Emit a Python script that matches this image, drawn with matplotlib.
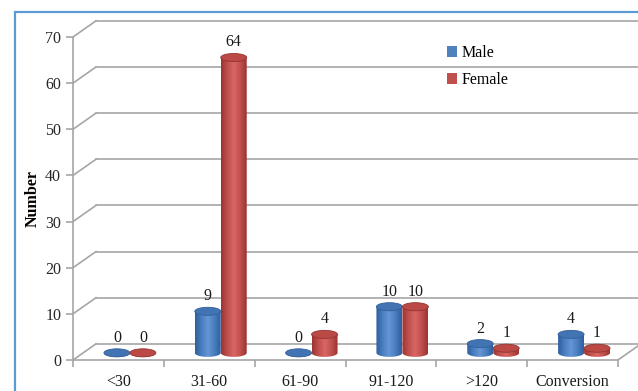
import numpy as np
import matplotlib.pyplot as plt
from matplotlib.colors import LinearSegmentedColormap
from matplotlib.patches import Ellipse, Rectangle, Patch
from matplotlib.path import Path

categories = ['<30', '31-60', '61-90', '91-120', '>120', 'Conversion']
male = [0, 9, 0, 10, 2, 4]
female = [0, 64, 4, 10, 1, 1]
yticks = [0, 10, 20, 30, 40, 50, 60, 70]

plt.rcParams['font.family'] = ['Liberation Serif', 'DejaVu Serif']

# depth of the 3d box in data units (x in categories, y in values)
DX, DY = 0.253, 3.5
BASE = 1.55          # floor level of the cylinders (middle of the depth)
CW = 0.286           # cylinder diameter
EH = 1.75            # height of the end ellipses in value units
GRID = '#a6a6a6'
FS = 11.5

fig = plt.figure(figsize=(6.38, 3.91), dpi=100)
ax = fig.add_axes([73 / 638, 31 / 391, 545 / 638, 323 / 391])
n = len(categories)
x0, x1 = -0.5, n - 0.5

# back wall grid + left side wall
for v in yticks:
    ax.plot([x0 + DX, x1 + DX], [v + DY, v + DY], color=GRID, lw=1.2,
            clip_on=False, zorder=1)
    ax.plot([x0, x0 + DX], [v, v + DY], color=GRID, lw=1.2, clip_on=False, zorder=1)
# floor right edge
ax.plot([x1, x1 + DX], [0, DY], color=GRID, lw=1.2, clip_on=False, zorder=1)

for s in ['top', 'right']:
    ax.spines[s].set_visible(False)
for s in ['left', 'bottom']:
    ax.spines[s].set_color(GRID)
    ax.spines[s].set_linewidth(1.2)

ax.set_xlim(x0, x1)
ax.set_ylim(0, 70)
ax.set_yticks(yticks)
ax.set_xticks(range(n))
ax.set_xticklabels(categories)
ax.set_xticks(np.arange(n + 1) - 0.5, minor=True)
ax.tick_params(axis='x', which='major', length=0, pad=10, labelsize=FS,
               labelcolor='#1a1a1a')
ax.tick_params(axis='x', which='minor', length=5, color=GRID, width=1.2)
ax.tick_params(axis='y', length=5, color=GRID, width=1.2, labelsize=FS,
               labelcolor='#262626')
ax.set_ylabel('Number', fontweight='bold', fontsize=FS, labelpad=3)
ax.patch.set_visible(False)


def cylinder(xc, val, dark, mid, light, top, edge):
    cmap = LinearSegmentedColormap.from_list(
        'cyl', [dark, mid, light, mid, dark], N=256)
    left, right = xc - CW / 2, xc + CW / 2
    ytop = BASE + val
    # body = rectangle plus the lower half of the base ellipse
    t = np.linspace(np.pi, 2 * np.pi, 40)
    verts = [(left, ytop)]
    verts += [(xc + CW / 2 * np.cos(a), BASE + EH / 2 * np.sin(a)) for a in t]
    verts += [(right, ytop), (left, ytop)]
    clip = Path(verts, closed=True)
    grad = np.linspace(0, 1, 64)[None, :]
    im = ax.imshow(grad, cmap=cmap, aspect='auto', interpolation='bilinear',
                   extent=[left, right, BASE - EH / 2, ytop], zorder=3)
    im.set_clip_path(clip, transform=ax.transData)
    ax.add_patch(Ellipse((xc, ytop), CW, EH, facecolor=top, edgecolor=edge,
                         lw=0.6, zorder=4, clip_on=False))


for i in range(n):
    xm = i + DX / 2
    cylinder(xm - CW / 2, male[i], '#2f5f9e', '#4a7ebf', '#6596d6',
             '#4274b3', '#345f99')
    cylinder(xm + CW / 2, female[i], '#9a3532', '#c0504d', '#d96764',
             '#bb4a47', '#933431')
    for xc, val in [(xm - CW / 2, male[i]), (xm + CW / 2, female[i])]:
        ax.annotate(str(val), (xc, BASE + val + EH / 2), xytext=(0, 3),
                    textcoords='offset pixels', ha='center', va='bottom',
                    fontsize=FS, color='#1a1a1a', zorder=5)

ax.set_xlim(x0, x1)
ax.set_ylim(0, 70)

handles = [Patch(facecolor='#4f81bd', edgecolor='none'),
           Patch(facecolor='#c0504d', edgecolor='none')]
fig.legend(handles, ['Male', 'Female'], loc='upper left',
           bbox_to_anchor=(433 / 638, 1 - 31 / 391), frameon=False,
           fontsize=FS, handlelength=0.6, handleheight=0.7,
           handletextpad=0.3, labelspacing=0.65)

# chart area border
fig.add_artist(Rectangle((15 / 638, -0.2), 1.2, 1.2 - 12 / 391,
                         transform=fig.transFigure, fill=False,
                         edgecolor='#5b9bd5', lw=1.6))

fig.savefig('out.png', dpi=100)
